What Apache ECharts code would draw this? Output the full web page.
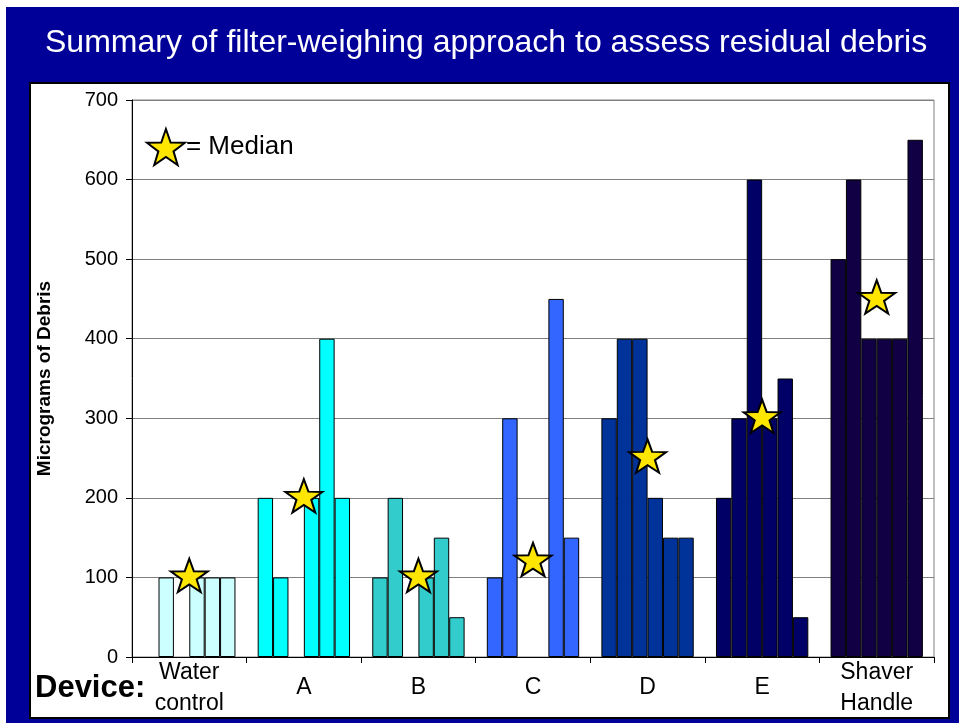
<!DOCTYPE html>
<html>
<head>
<meta charset="utf-8">
<script src="https://cdn.jsdelivr.net/npm/echarts@6/dist/echarts.min.js"></script>
<style>
  html, body { margin: 0; padding: 0; background: #ffffff; }
  #chart { width: 959px; height: 723px; }
</style>
</head>
<body>
<div id="chart"></div>
<script>
// Device categories along the x axis
const devices = ['Water\ncontrol', 'A', 'B', 'C', 'D', 'E', 'Shaver\nHandle'];

// Debris per filter (micrograms), six filter slots per device; null = no filter
const waterControl = [null, 100, null, 100, 100, 100];
const deviceA      = [200, 100, null, 200, 400, 200];
const deviceB      = [100, 200, null, 100, 150, 50];
const deviceC      = [100, 300, null, null, 450, 150];
const deviceD      = [300, 400, 400, 200, 150, 150];
const deviceE      = [200, 300, 600, 300, 350, 50];
const shaverHandle = [500, 600, 400, 400, 400, 650];

// Median debris per device (star markers)
const medians = [100, 200, 100, 120, 250, 300, 450];

// Y axis range
const yMin = 0, yMax = 700, yStep = 100;

// Fill colour for each device's bars
const deviceColors = ['#CCFFFF', '#00FFFF', '#33CCCC', '#3366FF', '#003399', '#000066', '#110044'];

const deviceValues = [waterControl, deviceA, deviceB, deviceC, deviceD, deviceE, shaverHandle];
const slotCount = 6;

// Five-pointed star outline for the median marker
function starPath() {
  const R = 100, r = 40;
  let d = '';
  for (let i = 0; i < 10; i++) {
    const rad = (i % 2 === 0) ? R : r;
    const a = -Math.PI / 2 + i * Math.PI / 5;
    const x = (rad * Math.cos(a)).toFixed(2);
    const y = (rad * Math.sin(a)).toFixed(2);
    d += (i === 0 ? 'M' : 'L') + x + ' ' + y + ' ';
  }
  return 'path://' + d + 'Z';
}
const STAR = starPath();

const FONT = "'Liberation Sans', Arial, Helvetica, sans-serif";

const barSeries = [];
for (let s = 0; s < slotCount; s++) {
  barSeries.push({
    type: 'bar',
    name: 'Filter ' + (s + 1),
    barGap: '0%',
    barCategoryGap: '19.4%',
    z: 2,
    data: deviceValues.map((vals, i) => ({
      value: vals[s],
      itemStyle: { color: deviceColors[i] }
    })),
    itemStyle: { borderColor: '#000000', borderWidth: 1 },
    emphasis: { disabled: true }
  });
}

const chart = echarts.init(document.getElementById('chart'), null, { renderer: 'canvas' });

chart.setOption({
  animation: false,
  backgroundColor: '#ffffff',
  graphic: [
    { type: 'rect', z: -10, shape: { x: 6, y: 7, width: 953, height: 716 }, style: { fill: '#000099' } },
    { type: 'rect', z: -9, shape: { x: 30, y: 83, width: 919, height: 635 },
      style: { fill: '#ffffff', stroke: '#000000', lineWidth: 2 } },
    { type: 'text', z: 5, left: 35, top: 673,
      style: { text: 'Device:', fill: '#000000', font: 'bold 31px ' + FONT } }
  ],
  title: {
    text: 'Summary of filter-weighing approach to assess residual debris',
    left: 45,
    top: 27,
    padding: 0,
    textStyle: { color: '#ffffff', fontSize: 32, fontWeight: 'normal', fontFamily: FONT }
  },
  legend: {
    left: 146,
    top: 128,
    padding: 0,
    itemWidth: 38,
    itemHeight: 36,
    itemGap: 0,
    data: [{ name: '= Median', icon: STAR }],
    textStyle: { fontSize: 26, color: '#000000', fontFamily: FONT, padding: [17, 0, 0, -4] }
  },
  grid: {
    left: 132, top: 100, width: 802, height: 557,
    show: true, borderColor: '#808080', borderWidth: 1, backgroundColor: 'transparent'
  },
  xAxis: {
    type: 'category',
    data: devices,
    axisLine: { lineStyle: { color: '#000000', width: 1 } },
    axisTick: { show: true, length: 6, lineStyle: { color: '#000000' } },
    axisLabel: {
      color: '#000000', fontSize: 23, fontFamily: FONT, lineHeight: 31,
      margin: 31, verticalAlign: 'middle', interval: 0
    },
    splitLine: { show: false }
  },
  yAxis: {
    type: 'value',
    min: yMin, max: yMax, interval: yStep,
    name: 'Micrograms of Debris',
    nameLocation: 'middle',
    nameRotate: 90,
    nameGap: 78,
    nameTextStyle: { color: '#000000', fontSize: 19, fontWeight: 'bold', fontFamily: FONT },
    axisLine: { show: true, lineStyle: { color: '#000000', width: 1 } },
    axisTick: { show: true, length: 6, lineStyle: { color: '#000000' } },
    axisLabel: { color: '#000000', fontSize: 20, fontFamily: FONT, margin: 14 },
    splitLine: { show: true, lineStyle: { color: '#808080', width: 1 } }
  },
  series: barSeries.concat([{
    type: 'scatter',
    name: '= Median',
    z: 5,
    symbol: STAR,
    symbolKeepAspect: true,
    symbolSize: [37, 35],
    symbolOffset: [0, -2],
    itemStyle: { color: '#FFE600', borderColor: '#000000', borderWidth: 2, opacity: 1 },
    emphasis: { disabled: true },
    data: medians
  }])
});
</script>
</body>
</html>
